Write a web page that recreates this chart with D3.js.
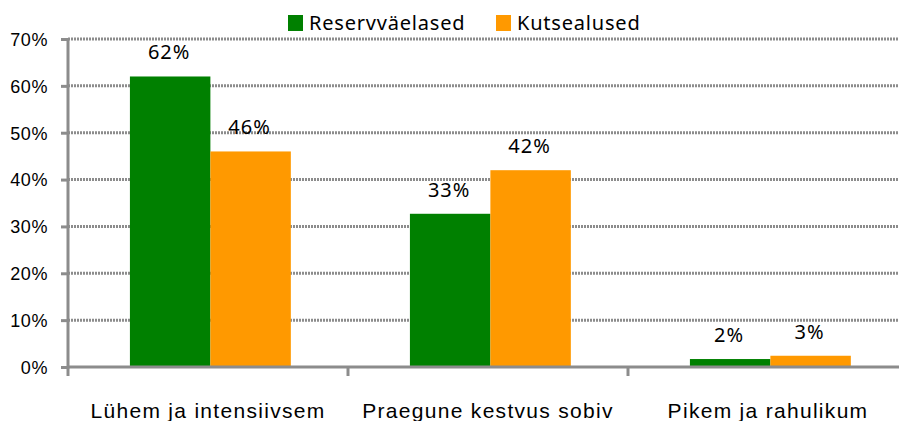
<!DOCTYPE html>
<html lang="et">
<head>
<meta charset="UTF-8" />
<title>Reservväelased vs Kutsealused</title>
<script src="https://d3js.org/d3.v7.min.js"></script>
<style>
  body { margin: 0; background: #fff; font-family: "Noto Sans", sans-serif; }
  svg { display: block; }
  .grid line { stroke: #8c8c8c; stroke-width: 3; stroke-dasharray: 2,1; }
  .axis path, .axis line { stroke: #8c8c8c; stroke-width: 3; }
  .axis text { fill: #000; }
</style>
</head>
<body>
<svg id="chart" width="899" height="421"></svg>
<script>
const categories = ["Lühem ja intensiivsem", "Praegune kestvus sobiv", "Pikem ja rahulikum"];
const seriesNames = ["Reservväelased", "Kutsealused"];
const reservValues = [0.62, 0.327, 0.017];
const kutseValues = [0.46, 0.42, 0.024];
const labelTexts = [["62%", "46%"], ["33%", "42%"], ["2%", "3%"]];
const yTicks = [0, 0.1, 0.2, 0.3, 0.4, 0.5, 0.6, 0.7];
const colors = ["#008000", "#ff9900"];

const svg = d3.select("#chart");
const plotLeft = 68, plotRight = 908, plotTop = 39, plotBottom = 367;

const x0 = d3.scaleBand().domain(categories).range([plotLeft, plotRight]).padding(0);
const x1 = d3.scaleBand().domain(seriesNames).range([0, x0.bandwidth()])
  .paddingInner(0).paddingOuter(0.74).align(0.52);
const y = d3.scaleLinear().domain([0, 0.7]).range([plotBottom, plotTop]);

// gridlines
svg.append("g").attr("class", "grid")
  .selectAll("line")
  .data(yTicks.filter(d => d > 0))
  .join("line")
  .attr("x1", plotLeft).attr("x2", 899)
  .attr("y1", d => y(d)).attr("y2", d => y(d));

// bars
const rows = categories.map((c, i) => ({
  cat: c,
  vals: [reservValues[i], kutseValues[i]],
  labels: labelTexts[i]
}));

const groups = svg.append("g").selectAll("g")
  .data(rows)
  .join("g")
  .attr("transform", d => `translate(${x0(d.cat)},0)`);

groups.selectAll("rect")
  .data(d => d.vals.map((v, j) => ({ s: seriesNames[j], v, j })))
  .join("rect")
  .attr("x", d => x1(d.s))
  .attr("width", x1.bandwidth())
  .attr("y", d => y(d.v))
  .attr("height", d => y(0) - y(d.v))
  .attr("fill", d => colors[d.j]);

groups.selectAll("text")
  .data(d => d.vals.map((v, j) => ({ s: seriesNames[j], v, t: d.labels[j] })))
  .join("text")
  .attr("x", d => x1(d.s) + x1.bandwidth() / 2 - 1)
  .attr("y", d => y(d.v) - 17)
  .attr("text-anchor", "middle")
  .style("font-size", "20px")
  .style("letter-spacing", "1px")
  .text(d => d.t);

// y axis
const yAxis = svg.append("g").attr("class", "axis")
  .attr("transform", `translate(${plotLeft},0)`)
  .call(d3.axisLeft(y).tickValues(yTicks).tickFormat(d3.format(".0%")).tickSize(7).tickSizeOuter(0));
yAxis.select(".domain").attr("d", `M0,${plotTop}V${plotBottom + 1.5}`);
yAxis.selectAll("text").style("font-size", "18px").style("letter-spacing", "0.6px")
  .attr("x", -20).attr("dy", "0.35em");

// x axis
const xAxis = svg.append("g").attr("class", "axis")
  .attr("transform", `translate(0,${plotBottom})`)
  .call(d3.axisBottom(x0).tickSize(0).tickSizeOuter(0));
xAxis.select(".domain").attr("d", `M${plotLeft},0H899`);
xAxis.selectAll(".tick text").style("font-size", "21px").style("letter-spacing", "1.3px")
  .attr("y", 36);
// category boundary ticks
xAxis.selectAll(".sep")
  .data(categories)
  .join("line")
  .attr("class", "sep")
  .attr("x1", d => x0(d)).attr("x2", d => x0(d))
  .attr("y1", 0).attr("y2", 9);

// legend
const legend = svg.append("g").attr("transform", "translate(288,0)");
const legendX = [0, 208];
seriesNames.forEach((n, i) => {
  legend.append("rect").attr("x", legendX[i]).attr("y", 15)
    .attr("width", 15).attr("height", 16).attr("fill", colors[i]);
  legend.append("text").attr("x", legendX[i] + 21).attr("y", 30)
    .style("font-size", "20px").style("letter-spacing", "0.8px").text(n);
});
</script>
</body>
</html>
